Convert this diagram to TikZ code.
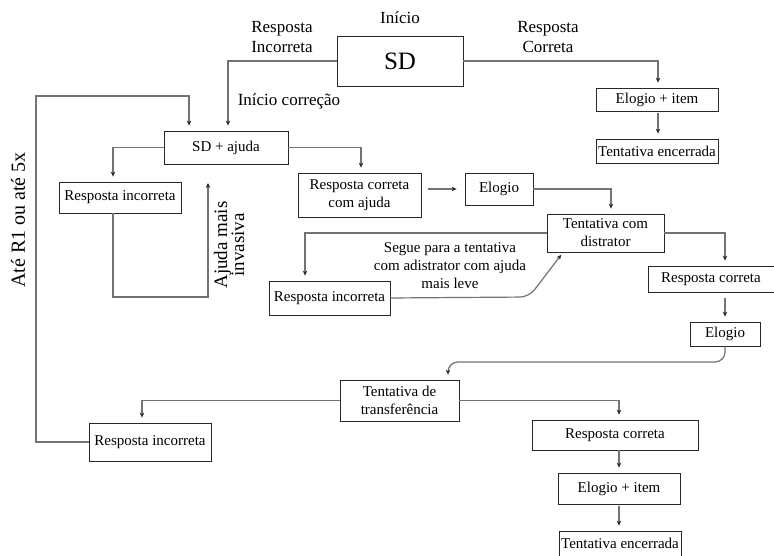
\documentclass[tikz,border=0pt]{standalone}
\usepackage{fontspec}
\setmainfont{Liberation Serif}
\usetikzlibrary{arrows.meta,positioning}
\definecolor{fcline}{RGB}{115,115,115}
\definecolor{fcbox}{RGB}{40,40,40}

\begin{document}
\begin{tikzpicture}[x=1pt, y=-1pt,
  box/.style={draw=fcbox, line width=0.8pt, inner sep=1pt, align=center, font=\fontsize{15}{18}\selectfont},
  lbl/.style={align=center, font=\fontsize{17}{20}\selectfont},
  arr/.style={-{Stealth[length=5pt, width=4.5pt, color=fcbox]}, fcline, line width=1.2pt, shorten >=5pt}]
\useasboundingbox (0,0) rectangle (774,556);
% Boxes
\node[box, minimum width=126pt, minimum height=50pt, font=\fontsize{25}{28}\selectfont] (sd) at (400,61) {SD};
\node[box, minimum width=124pt, minimum height=33pt] (sdaj) at (226,147.5) {SD + ajuda};
\node[box, minimum width=122pt, minimum height=23pt] (elit1) at (657,99.5) {Elogio + item};
\node[box, minimum width=122pt, minimum height=24pt] (fim1) at (657,151) {Tentativa encerrada};
\node[box, minimum width=122pt, minimum height=31pt] (inc1) at (120,197.5) {Resposta incorreta};
\node[box, minimum width=123pt, minimum height=44pt] (coraj) at (359.5,195) {Resposta correta\\com ajuda};
\node[box, minimum width=68pt, minimum height=32pt] (elo1) at (499,189) {Elogio};
\node[box, minimum width=117pt, minimum height=38pt] (dist) at (605.5,233) {Tentativa com\\distrator};
\node[box, minimum width=121pt, minimum height=34pt] (inc2) at (329.5,298) {Resposta incorreta};
\node[box, minimum width=126pt, minimum height=26pt] (cor2) at (711,279) {Resposta correta};
\node[box, minimum width=70pt, minimum height=24pt] (elo2) at (725,334) {Elogio};
\node[box, minimum width=119pt, minimum height=41pt] (transf) at (399.5,400.5) {Tentativa de\\transferência};
\node[box, minimum width=122pt, minimum height=38pt] (inc3) at (150,442) {Resposta incorreta};
\node[box, minimum width=166pt, minimum height=30pt] (cor3) at (615,435) {Resposta correta};
\node[box, minimum width=122pt, minimum height=31pt] (elit2) at (619,488.5) {Elogio + item};
\node[box, minimum width=122pt, minimum height=25pt] (fim2) at (620,543.5) {Tentativa encerrada};
% Labels
\node[lbl] (lbini) at (400,18) {Início};
\node[lbl] (lbinc) at (282,37) {Resposta\\Incorreta};
\node[lbl] (lbcor) at (548,37) {Resposta\\Correta};
\node[lbl] (lbcorr) at (289,101) {Início correção};
\node[lbl, font=\fontsize{20}{22}\selectfont, rotate=90] (lbate) at (18,220) {Até R1 ou até 5x};
\node[lbl, font=\fontsize{19}{17}\selectfont, rotate=90] (lbinv) at (229,245) {Ajuda mais\\invasiva};
\node[box, draw=none, align=center] (lbseg) at (450,266) {Segue para a tentativa\\com adistrator com ajuda\\mais leve};
% Coordinates
\coordinate (loopL) at (36,96);
\coordinate (loopB) at (208,297);
\coordinate (invtip) at (208,183);
\coordinate (segbend) at (529,297);
\coordinate (trbend) at (448,362);
% Arrows
\draw[arr] (sd.west) -| ([xshift=2pt]sdaj.north);
\draw[arr] (sd.east) -| ([xshift=1pt]elit1.north);
\draw[arr, shorten <=2pt] ([xshift=1pt]elit1.south) -- ([xshift=1pt]fim1.north);
\draw[arr] (inc3.west) -| (loopL) -| ([xshift=-37pt]sdaj.north);
\draw[arr] (sdaj.west) -| ([xshift=-7pt]inc1.north);
\draw[arr, shorten >=0pt] ([xshift=-7pt]inc1.south) |- (loopB) -- (invtip);
\draw[arr] (sdaj.east) -| ([xshift=1.5pt]coraj.north);
\draw[arr, shorten <=7pt, shorten >=8pt] (coraj.east |- elo1.east) -- (elo1.west);
\draw[arr] (elo1.east) -| ([xshift=5.5pt]dist.north);
\draw[arr] (dist.west) -| ([xshift=-24.5pt]inc2.north);
\draw[arr, rounded corners=9pt, shorten >=3pt] (inc2.east) -- (segbend) -- ([xshift=-42.5pt]dist.south);
\draw[arr] (dist.east) -| ([xshift=14pt]cor2.north);
\draw[arr, shorten <=6pt] ([xshift=14pt]cor2.south) -- (elo2.north);
\draw[arr, rounded corners=10pt] (elo2.south) |- (trbend) -- ([xshift=48.5pt]transf.north);
\draw[arr] (transf.west) -| ([xshift=-8pt]inc3.north);
\draw[arr] (transf.east) -| ([xshift=4pt]cor3.north);
\draw[arr] ([xshift=4pt]cor3.south) -- ([xshift=4pt]cor3.south |- elit2.north);
\draw[arr, shorten <=2pt] (elit2.south) -- (elit2.south |- fim2.north);
\end{tikzpicture}
\end{document}
